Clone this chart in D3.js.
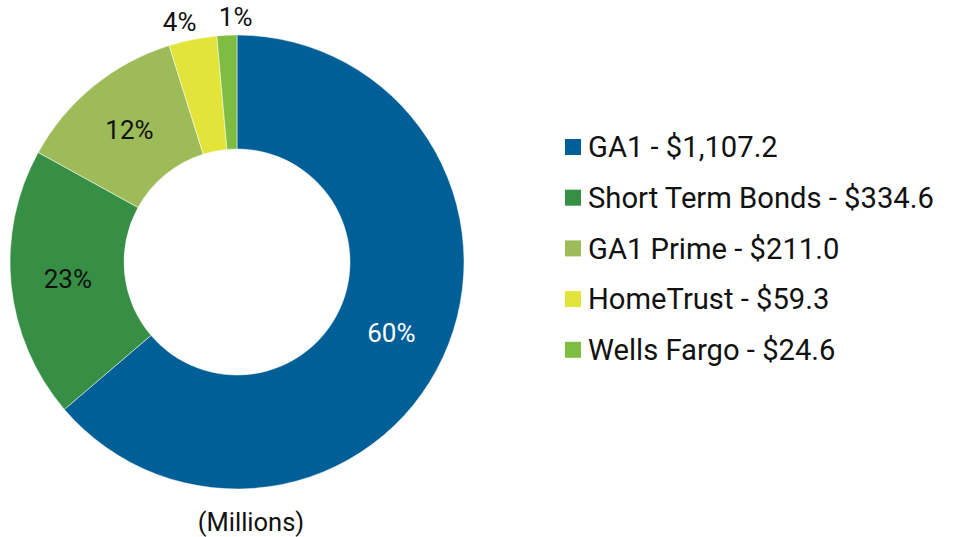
<!DOCTYPE html>
<html>
<head>
<meta charset="utf-8">
<script src="https://cdn.jsdelivr.net/npm/d3@7"></script>
<style>
  body { margin: 0; background: #fff; }
  svg { display: block; font-family: Roboto, "Noto Sans", sans-serif; }
</style>
</head>
<body>
<svg id="chart" width="953" height="537"></svg>
<script>
// data (millions)
var names = ["GA1", "Short Term Bonds", "GA1 Prime", "HomeTrust", "Wells Fargo"];
var amounts = [1107.2, 334.6, 211.0, 59.3, 24.6];
var pctLabels = ["60%", "23%", "12%", "4%", "1%"];
var colors = ["#005f96", "#368f45", "#9dbb59", "#e3e43a", "#7fbd42"];
var unitLabel = "(Millions)";

function drawDonut(){
    var svg = d3.select("#chart");
    var cx = 237, cy = 262,
        outerR = 227, innerR = 113;

    var rows = names.map(function(n, i){
        return {name: n, value: amounts[i], pct: pctLabels[i], color: colors[i]};
    });

    var pie = d3.pie()
        .sort(null)
        .value(function(d){ return d.value; });

    var arc = d3.arc()
        .innerRadius(innerR)
        .outerRadius(outerR);

    // small slices get their label outside the ring
    var outArc = d3.arc()
        .innerRadius(245)
        .outerRadius(245);

    var g = svg.append("g")
        .attr("transform", "translate(" + cx + "," + cy + ")");

    var slices = pie(rows);

    g.selectAll("path.slice")
        .data(slices)
        .enter().append("path")
        .attr("class", "slice")
        .attr("d", arc)
        .attr("fill", function(d){ return d.data.color; })
        .attr("stroke", "#fff")
        .attr("stroke-width", 0.5);

    // label positions, outside ones pushed apart so they don't crowd
    var pos = slices.map(function(d){
        var outside = (d.endAngle - d.startAngle) < 0.3;
        var p = outside ? outArc.centroid(d) : arc.centroid(d);
        return {x: p[0], y: p[1], outside: outside};
    });
    for (let i = 1; i < pos.length; i++){
        if (pos[i].outside && pos[i-1].outside){
            var gap = pos[i].x - pos[i-1].x;
            if (gap < 56){
                var push = (56 - gap) / 2;
                pos[i].x += push;
                pos[i-1].x -= push;
            }
        }
    }

    g.selectAll("text.pct")
        .data(slices)
        .enter().append("text")
        .attr("class", "pct")
        .attr("transform", function(d, i){
            return "translate(" + pos[i].x + "," + pos[i].y + ")";
        })
        .attr("text-anchor", "middle")
        .attr("dy", "0.35em")
        .attr("font-size", 26)
        .attr("fill", function(d){ return d.index === 0 ? "#fff" : "#111"; })
        .text(function(d){ return d.data.pct; });

    svg.append("text")
        .attr("x", 251)
        .attr("y", 522)
        .attr("text-anchor", "middle")
        .attr("dy", "0.35em")
        .attr("font-size", 25.5)
        .attr("fill", "#111")
        .text(unitLabel);

    // legend
    var legend = svg.append("g")
        .attr("transform", "translate(565,147)");

    var item = legend.selectAll("g.item")
        .data(rows)
        .enter().append("g")
        .attr("class", "item")
        .attr("transform", function(d, i){ return "translate(0," + (i * 50.7) + ")"; });

    item.append("rect")
        .attr("x", 0)
        .attr("y", -8)
        .attr("width", 16)
        .attr("height", 16)
        .attr("fill", function(d){ return d.color; });

    var fmt = d3.format(",.1f");
    item.append("text")
        .attr("x", 23)
        .attr("y", 0)
        .attr("dy", "0.35em")
        .attr("font-size", 29.2)
        .attr("fill", "#111")
        .text(function(d){ return d.name + " - $" + fmt(d.value); });
}

drawDonut();
</script>
</body>
</html>
